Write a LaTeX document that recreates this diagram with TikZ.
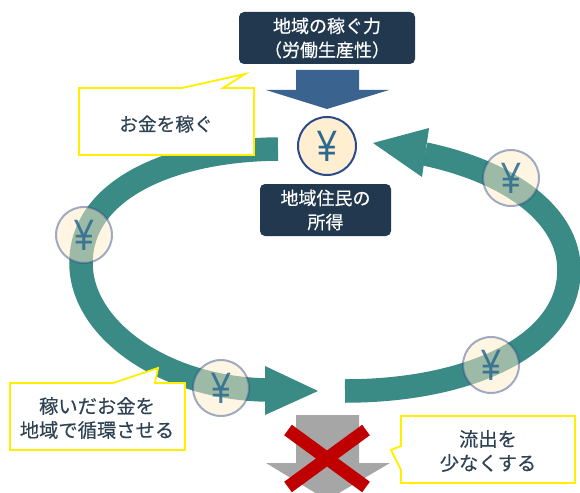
\documentclass[tikz,border=0pt]{standalone}
\usepackage{fontspec}
\setmainfont{Noto Sans CJK JP}[FakeBold=0.35]
\newfontfamily\yenfont{Liberation Sans}
\newcommand{\yensign}{\scalebox{.8}[1]{¥}}
\definecolor{navy}{HTML}{22384F}
\definecolor{teal1}{HTML}{3A8A85}
\definecolor{ink}{HTML}{2F4254}
\definecolor{cream}{HTML}{FFEBC8}
\definecolor{ringblue}{HTML}{2B4A8C}
\definecolor{yenblue}{HTML}{2C6A8E}
\definecolor{arrowblue}{HTML}{3A6390}
\definecolor{calloutyellow}{HTML}{FFF000}
\definecolor{flowgray}{HTML}{A6A6A6}
\definecolor{crossred}{HTML}{C00000}
\tikzset{
  darkbox/.style={draw=none,fill=navy,rounded corners=5pt,text=white,align=center,font=\fontsize{18}{24}\selectfont,inner sep=0pt},
  callout/.style={draw=calloutyellow,line width=1.8pt,fill=white,line join=miter},
  callouttext/.style={text=ink,align=center,font=\fontsize{19.3}{24}\selectfont,inner sep=0pt},
  band/.style={draw=teal1,line width=23.5pt,line cap=butt},
  bandhead/.style={fill=teal1,draw=none},
  yenmain/.style={circle,minimum size=58pt,inner sep=0pt,draw=ringblue,line width=2pt,fill=cream!85!white,text=yenblue,font=\yenfont\fontsize{44}{44}\selectfont},
  yenfloat/.style={circle,minimum size=56pt,inner sep=0pt,draw=ringblue,draw opacity=.45,line width=2pt,fill=cream,fill opacity=.5,text=yenblue,text opacity=.85,font=\yenfont\fontsize{44}{44}\selectfont}
}
\begin{document}
\begin{tikzpicture}[x=1pt,y=-1pt]
\useasboundingbox (0,0) rectangle (580,492);
\clip (0,0) rectangle (580,492);
% circulation bands
\coordinate (lstart) at (278,149);
\coordinate (lmid) at (81,263);
\coordinate (lend) at (266,390);
\coordinate (rstart) at (345,391);
\coordinate (rmid) at (569,270);
\coordinate (rend) at (425,154);
\draw[band] (lstart) .. controls (170,150) and (81,190) .. (lmid)
  .. controls (81,330) and (165,388) .. (lend);
\fill[bandhead] (265,366) -- (318,391) -- (265,415) -- cycle;
\draw[band] (rstart) .. controls (470,391) and (569,345) .. (rmid)
  .. controls (569,215) and (510,172) .. (rend);
\fill[bandhead] (429,128) -- (373,143) -- (422,177) -- cycle;
% floating yen
\node[yenfloat] (y1) at (84,235) {\yensign};
\node[yenfloat] (y2) at (221,388) {\yensign};
\node[yenfloat] (y3) at (491,365) {\yensign};
\node[yenfloat] (y4) at (511,178) {\yensign};
% top
\node[darkbox,minimum width=176pt,minimum height=52pt] (power) at (327,38) {地域の稼ぐ力\\（労働生産性）};
\fill[arrowblue] (296,70) -- (359,70) -- (359,90) -- (389,90) -- (327,109) -- (266,90) -- (296,90) -- cycle;
\node[yenmain] (income) at (327,146) {\yensign};
\node[darkbox,minimum width=131pt,minimum height=52pt] (residents) at (325.5,210) {地域住民の\\所得};
% callouts
\draw[callout] (79,88) -- (182,88) -- (245,74) -- (223,88) -- (254,88) -- (254,155) -- (79,155) -- cycle;
\node[callouttext,font=\fontsize{18.7}{24}\selectfont] (earn) at (166,124) {お金を稼ぐ};
\draw[callout] (10,383) -- (113,383) -- (158,368) -- (155,383) -- (185,383) -- (185,450) -- (10,450) -- cycle;
\node[callouttext] (circ) at (97,418) {稼いだお金を\\地域で循環させる};
% outflow
\fill[flowgray] (296,415) -- (359,415) -- (359,463) -- (390,463) -- (327,500) -- (266,463) -- (296,463) -- cycle;
\coordinate (xa) at (288,430);
\coordinate (xb) at (366,487);
\coordinate (xc) at (366,430);
\coordinate (xd) at (288,487);
\draw[crossred,line width=13pt] (xa) -- (xb) (xc) -- (xd);
\draw[callout] (401,416) -- (575,416) -- (575,483) -- (401,483) -- (401,470) -- (391,450) -- (401,446) -- cycle;
\node[callouttext] (less) at (488,451) {流出を\\少なくする};
\end{tikzpicture}
\end{document}
